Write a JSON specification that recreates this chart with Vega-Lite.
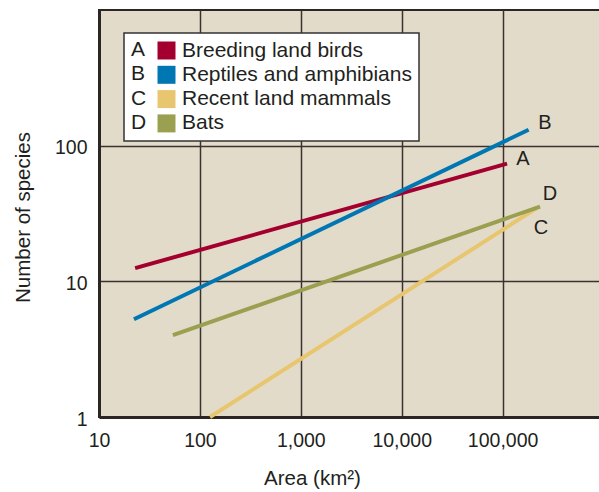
{
  "$schema": "https://vega.github.io/schema/vega-lite/v6.json",
  "autosize": "none",
  "width": 502,
  "height": 407,
  "padding": {"left": 99, "top": 10, "right": 0, "bottom": 75},
  "background": "white",
  "config": {
    "font": "Liberation Sans",
    "view": {"fill": "#e3dbc9", "stroke": "#2b2523", "strokeWidth": 2},
    "axis": {
      "labelFont": "Liberation Sans", "labelFontSize": 19.5, "labelColor": "#231f20",
      "titleFont": "Liberation Sans", "titleFontSize": 20.5, "titleFontWeight": "normal", "titleColor": "#231f20",
      "ticks": false, "grid": true, "gridColor": "#3a3230", "gridWidth": 1.5, "gridOpacity": 1,
      "domain": true, "domainColor": "#2b2523", "domainWidth": 3, "labelOverlap": false, "labelFlush": false
    }
  },
  "datasets": {
    "lines": [
      {"series": "Breeding land birds", "area": 22.8, "species": 12.5},
      {"series": "Breeding land birds", "area": 110700, "species": 73.7},
      {"series": "Reptiles and amphibians", "area": 22.2, "species": 5.26},
      {"series": "Reptiles and amphibians", "area": 181000, "species": 131},
      {"series": "Recent land mammals", "area": 126, "species": 1.0},
      {"series": "Recent land mammals", "area": 214000, "species": 34.4},
      {"series": "Bats", "area": 54, "species": 4.01},
      {"series": "Bats", "area": 235000, "species": 35.6}
    ],
    "labels": [
      {"label": "B", "area": 263000, "species": 147.6},
      {"label": "A", "area": 159000, "species": 80.2},
      {"label": "D", "area": 295000, "species": 44.4},
      {"label": "C", "area": 240000, "species": 24.9}
    ]
  },
  "layer": [
    {
      "data": {"name": "lines"},
      "mark": {"type": "line", "strokeWidth": 4},
      "encoding": {
        "x": {
          "field": "area", "type": "quantitative",
          "scale": {"type": "log", "domain": [10, 944000], "nice": false},
          "axis": {"values": [10, 100, 1000, 10000, 100000], "format": ",", "labelPadding": 14,
                   "title": "Area (km²)", "titleX": 213, "titleY": 61, "titleBaseline": "middle", "titleAnchor": null, "titleAlign": "center"}
        },
        "y": {
          "field": "species", "type": "quantitative",
          "scale": {"type": "log", "domain": [1, 1000], "nice": false},
          "axis": {"values": [1, 10, 100], "format": "d", "labelPadding": 12, "labelBaseline": "middle", "labelOffset": 2,
                   "title": "Number of species", "titleX": -76, "titleY": 207, "titleAngle": -90, "titleAlign": "center", "titleBaseline": "middle"}
        },
        "color": {
          "field": "series", "type": "nominal",
          "scale": {"domain": ["Breeding land birds", "Reptiles and amphibians", "Recent land mammals", "Bats"],
                    "range": ["#a3002f", "#0077b3", "#e8c670", "#9aa050"]},
          "legend": {
            "orient": "none", "legendX": 25, "legendY": 23,
            "title": ["A", "B", "C", "D"], "titleOrient": "left", "titleFontSize": 21, "titleFontWeight": "normal",
            "titleLineHeight": 24.3, "titlePadding": 9, "titleColor": "#231f20", "titleFont": "Liberation Sans",
            "symbolType": "square", "symbolSize": 324, "symbolStrokeWidth": 0,
            "labelFontSize": 21, "labelOffset": 5, "labelColor": "#231f20", "labelFont": "Liberation Sans", "labelLimit": 400,
            "rowPadding": 2.3, "padding": 7, "fillColor": "white", "strokeColor": "#333333",
            "encode": {
              "symbols": {"update": {"fill": {"scale": "color", "field": "value"}, "opacity": {"value": 1}}},
              "legend": {"update": {"strokeWidth": {"value": 1.5}}}
            }
          }
        }
      }
    },
    {
      "data": {"name": "labels"},
      "mark": {"type": "text", "fontSize": 20, "font": "Liberation Sans", "color": "#231f20", "baseline": "middle", "align": "center"},
      "encoding": {
        "x": {"field": "area", "type": "quantitative"},
        "y": {"field": "species", "type": "quantitative"},
        "text": {"field": "label"}
      }
    }
  ]
}
